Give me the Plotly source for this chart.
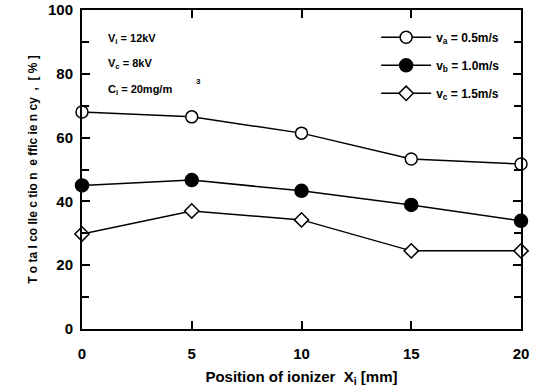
import plotly.graph_objects as go

x_pos = [0, 5, 10, 15, 20]
eff_a = [68.0, 66.5, 61.4, 53.3, 51.7]
eff_b = [45.0, 46.7, 43.3, 38.9, 33.9]
eff_c = [29.8, 37.0, 34.2, 24.5, 24.5]
names = ["v<sub>a</sub> = 0.5m/s", "v<sub>b</sub> = 1.0m/s", "v<sub>c</sub> = 1.5m/s"]

FONT = "Liberation Sans, Arial, sans-serif"

fig = go.Figure()
styles = [
    dict(symbol="circle", size=12, color="white"),
    dict(symbol="circle", size=13, color="black"),
    dict(symbol="diamond", size=11, color="white"),
]
for i, (ys, nm, st) in enumerate(zip([eff_a, eff_b, eff_c], names, styles)):
    fig.add_trace(go.Scatter(
        x=x_pos, y=ys, name=nm, mode="lines+markers", legendgroup=f"g{i}",
        line=dict(color="black", width=1.5),
        marker=dict(symbol=st["symbol"], size=st["size"], color=st["color"],
                    line=dict(color="black", width=1.5)),
        cliponaxis=False,
    ))

axis_common = dict(
    showline=True, linecolor="black", linewidth=2, mirror="allticks",
    ticks="inside", tickcolor="black", ticklen=8, tickwidth=1.5,
    showgrid=False, zeroline=False, automargin=False,
    tickfont=dict(family=FONT, size=15, color="black", weight="bold"),
)

fig.update_xaxes(range=[0, 20], tickvals=[0, 5, 10, 15, 20], **axis_common,
                 ticklabelstandoff=10,
                 title=dict(text="Position of ionizer  X<sub>i</sub> [mm]",
                            font=dict(family=FONT, size=15, color="black", weight="bold"),
                            standoff=10))
fig.update_yaxes(range=[0, 100], dtick=20, **axis_common,
                 ticklabelstandoff=4,
                 minor=dict(dtick=10, ticks="inside", ticklen=7, tickcolor="black", tickwidth=1.5),
                 title=dict(text="T o ta l co lle c tio n  e ffic ie n cy  ,  [ % ]",
                            font=dict(family=FONT, size=12, color="black", weight="bold"),
                            standoff=8))

for txt, yy in [("V<sub>i</sub> = 12kV", 0.91), ("V<sub>c</sub> = 8kV", 0.83), ("C<sub>i</sub> = 20mg/m", 0.75)]:
    fig.add_annotation(text=txt, xref="paper", yref="paper", x=0.055, y=yy,
                       xanchor="left", yanchor="middle", showarrow=False,
                       font=dict(family=FONT, size=11, color="black", weight="bold"))
fig.add_annotation(text="3", xref="paper", yref="paper", x=0.255, y=0.775,
                   xanchor="left", yanchor="middle", showarrow=False,
                   font=dict(family=FONT, size=8, color="black", weight="bold"))

fig.update_layout(
    width=533, height=389,
    margin=dict(l=82, r=12, t=10, b=60, autoexpand=False),
    paper_bgcolor="white", plot_bgcolor="white",
    showlegend=True,
    legend=dict(x=0.67, y=0.96, xanchor="left", yanchor="top",
                bgcolor="rgba(0,0,0,0)", itemwidth=50, tracegroupgap=9,
                font=dict(family=FONT, size=12, color="black", weight="bold")),
)

fig.write_html("out.html")
